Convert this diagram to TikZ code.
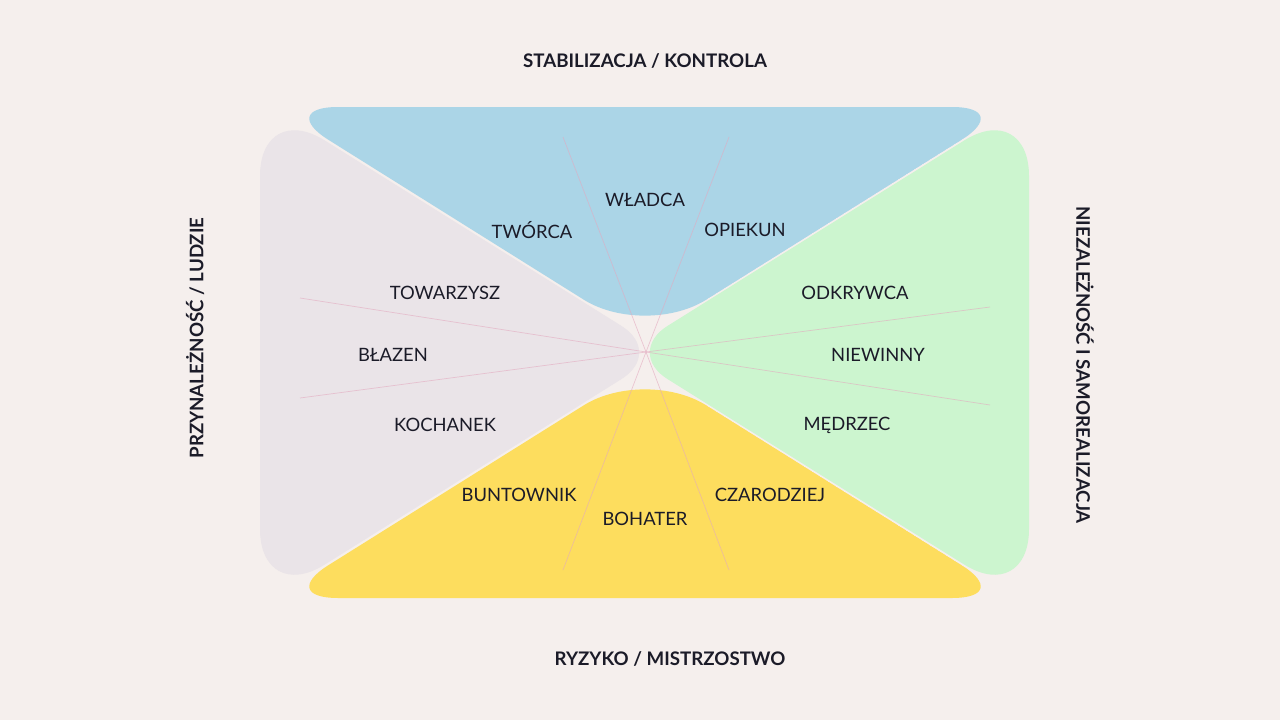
\documentclass[tikz,border=0pt]{standalone}
\usepackage{fontspec}
\setmainfont{Lato}
\definecolor{bgcol}{HTML}{F5EFED}
\definecolor{topcol}{HTML}{ABD5E7}
\definecolor{leftcol}{HTML}{EAE4E8}
\definecolor{rightcol}{HTML}{CCF5CF}
\definecolor{bottomcol}{HTML}{FDDD5E}
\definecolor{txtcol}{HTML}{1B1B28}
\definecolor{raycol}{HTML}{E3A9BF}

\begin{document}
\begin{tikzpicture}[x=1pt, y=-1pt,
  lbl/.style={font=\fontsize{18.4}{22}\selectfont, text=txtcol, inner sep=0pt},
  axis/.style={font=\fontsize{18.7}{22}\selectfont\bfseries, text=txtcol, inner sep=0pt},
  ray/.style={draw=raycol, line width=0.7pt, opacity=0.6}]
  \useasboundingbox[fill=bgcol] (0,0) rectangle (1280,720);
  % top wedge: small outer corners, wide round tip
  \begin{scope}
    \clip[rounded corners=72pt] (-93,-124) -- (645,338) -- (1383,-124) -- cycle;
    \fill[topcol, rounded corners=62pt] (276,107) -- (1014,107) -- (645,338) -- cycle;
  \end{scope}
  % bottom wedge
  \begin{scope}
    \clip[rounded corners=72pt] (-93,829) -- (645,367) -- (1383,829) -- cycle;
    \fill[bottomcol, rounded corners=62pt] (276,598) -- (1014,598) -- (645,367) -- cycle;
  \end{scope}
  % side wedges
  \fill[leftcol] (260,100) [rounded corners=50pt] -- (664,352.5) [rounded corners=76pt] -- (260,605) -- cycle;
  \fill[rightcol] (1029,100) [rounded corners=50pt] -- (625,352.5) [rounded corners=76pt] -- (1029,605) -- cycle;
  % thin rays through the centre
  \coordinate (c) at (646,352);
  \coordinate (t1) at (563,137);
  \coordinate (t2) at (729,137);
  \coordinate (b1) at (563,570);
  \coordinate (b2) at (729,570);
  \coordinate (l1) at (300,298);
  \coordinate (l2) at (300,398);
  \coordinate (r1) at (990,307);
  \coordinate (r2) at (990,405);
  \draw[ray] (t1) -- (c) -- (b2);
  \draw[ray] (t2) -- (c) -- (b1);
  \draw[ray] (l1) -- (c) -- (r2);
  \draw[ray] (l2) -- (c) -- (r1);
  % axis labels
  \node[axis] (stab) at (645,61) {STABILIZACJA / KONTROLA};
  \node[axis] (ryz) at (670,659) {RYZYKO / MISTRZOSTWO};
  \node[axis, rotate=90] (przy) at (195,338) {PRZYNALEŻNOŚĆ / LUDZIE};
  \node[axis, rotate=-90] (niez) at (1085,365) {NIEZALEŻNOŚĆ I SAMOREALIZACJA};
  % archetypes
  \node[lbl] (wladca) at (645,200) {WŁADCA};
  \node[lbl] (tworca) at (532,230) {TWÓRCA};
  \node[lbl] (opiekun) at (745,230) {OPIEKUN};
  \node[lbl] (towarzysz) at (445,293) {TOWARZYSZ};
  \node[lbl] (blazen) at (393,355) {BŁAZEN};
  \node[lbl] (kochanek) at (445,425) {KOCHANEK};
  \node[lbl] (odkrywca) at (855,293) {ODKRYWCA};
  \node[lbl] (niewinny) at (878,355) {NIEWINNY};
  \node[lbl] (medrzec) at (847,425) {MĘDRZEC};
  \node[lbl] (buntownik) at (519,495) {BUNTOWNIK};
  \node[lbl] (bohater) at (645,519) {BOHATER};
  \node[lbl] (czarodziej) at (770,495) {CZARODZIEJ};
\end{tikzpicture}
\end{document}
